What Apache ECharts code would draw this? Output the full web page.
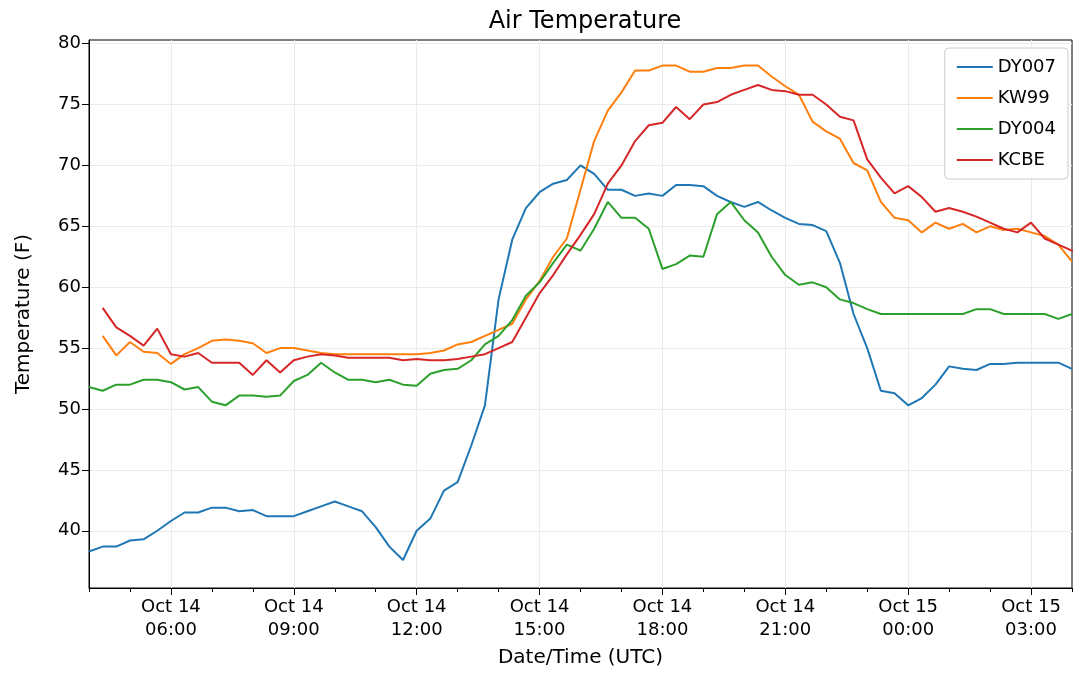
<!DOCTYPE html>
<html>
<head>
<meta charset="utf-8">
<script src="https://cdn.jsdelivr.net/npm/echarts@6/dist/echarts.min.js"></script>
<style>html,body{margin:0;padding:0;background:#fff}#chart{width:1080px;height:681px}</style>
</head>
<body>
<div id="chart"></div>
<script>
// hours counted from Oct 14 00:00 UTC, samples every 20 minutes
const stepHours = 1 / 3
const names = ['DY007', 'KW99', 'DY004', 'KCBE']
const colors = ['#1f77b4', '#ff7f0e', '#2ca02c', '#d62728']
const startHours = [4, 4 + 1 / 3, 4, 4 + 1 / 3]

const dy007 = [38.3, 38.7, 38.7, 39.2, 39.3, 40.0, 40.8, 41.5, 41.5, 41.9, 41.9, 41.6, 41.7, 41.2, 41.2, 41.2,
  41.6, 42.0, 42.4, 42.0, 41.6, 40.3, 38.7, 37.6, 40.0, 41.0, 43.3, 44.0, 47.0, 50.3, 59.0, 63.9, 66.5, 67.8,
  68.5, 68.8, 70.0, 69.3, 68.0, 68.0, 67.5, 67.7, 67.5, 68.4, 68.4, 68.3, 67.5, 67.0, 66.6, 67.0, 66.3, 65.7,
  65.2, 65.1, 64.6, 62.0, 57.8, 55.0, 51.5, 51.3, 50.3, 50.9, 52.0, 53.5, 53.3, 53.2, 53.7, 53.7, 53.8, 53.8,
  53.8, 53.8, 53.3]
const kw99 = [56.0, 54.4, 55.5, 54.7, 54.6, 53.7, 54.5, 55.0, 55.6, 55.7, 55.6, 55.4, 54.6, 55.0, 55.0, 54.8,
  54.6, 54.5, 54.5, 54.5, 54.5, 54.5, 54.5, 54.5, 54.6, 54.8, 55.3, 55.5, 56.0, 56.5, 57.0, 59.0, 60.5, 62.5,
  64.0, 68.0, 72.0, 74.5, 76.0, 77.8, 77.8, 78.2, 78.2, 77.7, 77.7, 78.0, 78.0, 78.2, 78.2, 77.3, 76.5, 75.8,
  73.6, 72.8, 72.2, 70.2, 69.6, 67.0, 65.7, 65.5, 64.5, 65.3, 64.8, 65.2, 64.5, 65.0, 64.7, 64.8, 64.5, 64.2,
  63.5, 62.1]
const dy004 = [51.8, 51.5, 52.0, 52.0, 52.4, 52.4, 52.2, 51.6, 51.8, 50.6, 50.3, 51.1, 51.1, 51.0, 51.1, 52.3,
  52.8, 53.8, 53.0, 52.4, 52.4, 52.2, 52.4, 52.0, 51.9, 52.9, 53.2, 53.3, 54.0, 55.3, 56.0, 57.3, 59.3, 60.4,
  62.0, 63.5, 63.0, 64.8, 67.0, 65.7, 65.7, 64.8, 61.5, 61.9, 62.6, 62.5, 66.0, 67.0, 65.5, 64.5, 62.5, 61.0,
  60.2, 60.4, 60.0, 59.0, 58.7, 58.2, 57.8, 57.8, 57.8, 57.8, 57.8, 57.8, 57.8, 58.2, 58.2, 57.8, 57.8, 57.8,
  57.8, 57.4, 57.8]
const kcbe = [58.3, 56.7, 56.0, 55.2, 56.6, 54.5, 54.3, 54.6, 53.8, 53.8, 53.8, 52.8, 54.0, 53.0, 54.0, 54.3,
  54.5, 54.4, 54.2, 54.2, 54.2, 54.2, 54.0, 54.1, 54.0, 54.0, 54.1, 54.3, 54.5, 55.0, 55.5, 57.5, 59.5, 61.0,
  62.7, 64.3, 66.0, 68.5, 70.0, 72.0, 73.3, 73.5, 74.8, 73.8, 75.0, 75.2, 75.8, 76.2, 76.6, 76.2, 76.1, 75.8,
  75.8, 75.0, 74.0, 73.7, 70.5, 69.0, 67.7, 68.3, 67.4, 66.2, 66.5, 66.2, 65.8, 65.3, 64.8, 64.5, 65.3, 64.0,
  63.5, 63.0, 62.8]

const xTicks = [6, 9, 12, 15, 18, 21, 24, 27]
const xTickLabels = ['Oct 14\n06:00', 'Oct 14\n09:00', 'Oct 14\n12:00', 'Oct 14\n15:00',
  'Oct 14\n18:00', 'Oct 14\n21:00', 'Oct 15\n00:00', 'Oct 15\n03:00']
const yTicks = [40, 45, 50, 55, 60, 65, 70, 75, 80]

const allValues = [dy007, kw99, dy004, kcbe]

let myChart = echarts.init(document.getElementById('chart'))
let gridStyle = { color: '#ebebeb', width: 1 }
let option = {
  animation: false,
  textStyle: { fontFamily: 'DejaVu Sans' },
  title: {
    text: 'Air Temperature', left: 580, top: 5, textAlign: 'center',
    textStyle: { fontSize: 24, fontWeight: 'normal', color: '#000' }
  },
  legend: {
    data: names, orient: 'vertical', right: 12, top: 48,
    itemWidth: 36, itemHeight: 2, itemGap: 13, icon: 'rect',
    padding: [10, 12], borderColor: '#ccc', borderWidth: 1, borderRadius: 4,
    backgroundColor: 'rgba(255,255,255,0.85)',
    textStyle: { fontSize: 18, color: '#000' }
  },
  grid: { left: 89, right: 8, top: 40, bottom: 93, containLabel: false, show: true, borderColor: '#000', borderWidth: 1 },
  xAxis: [{
    type: 'value', min: 4, max: 28,
    name: 'Date/Time (UTC)', nameLocation: 'middle', nameGap: 60,
    nameTextStyle: { fontSize: 20, color: '#000' },
    axisLine: { show: true, lineStyle: { color: '#000' } },
    axisTick: { show: true, length: 7, inside: false, customValues: xTicks, lineStyle: { color: '#000' } },
    axisLabel: {
      fontSize: 18, color: '#000', lineHeight: 23, margin: 8, customValues: xTicks,
      formatter: v => xTickLabels[xTicks.indexOf(v)] || ''
    },
    splitLine: { show: true, lineStyle: gridStyle }
  }, {
    type: 'value', min: 4, max: 28, interval: 1, position: 'bottom',
    axisLine: { show: false }, axisLabel: { show: false }, splitLine: { show: false },
    axisTick: { show: true, length: 4, lineStyle: { color: '#000' } }
  }],
  yAxis: {
    type: 'value', min: 35.3, max: 80.3,
    name: 'Temperature (F)', nameLocation: 'middle', nameGap: 55,
    nameTextStyle: { fontSize: 20, color: '#000' },
    axisLine: { show: true, lineStyle: { color: '#000' } },
    axisTick: { show: true, length: 7, customValues: yTicks, lineStyle: { color: '#000' } },
    axisLabel: { fontSize: 18, color: '#000', customValues: yTicks, margin: 8 },
    splitLine: { show: true, lineStyle: gridStyle }
  },
  series: allValues.map((vals, k) => ({
    name: names[k], type: 'line', showSymbol: false, symbol: 'none',
    lineStyle: { width: 2, color: colors[k] }, itemStyle: { color: colors[k] },
    data: vals.map((v, i) => [startHours[k] + i * stepHours, v])
  }))
}
myChart.setOption(option)
</script>
</body>
</html>
